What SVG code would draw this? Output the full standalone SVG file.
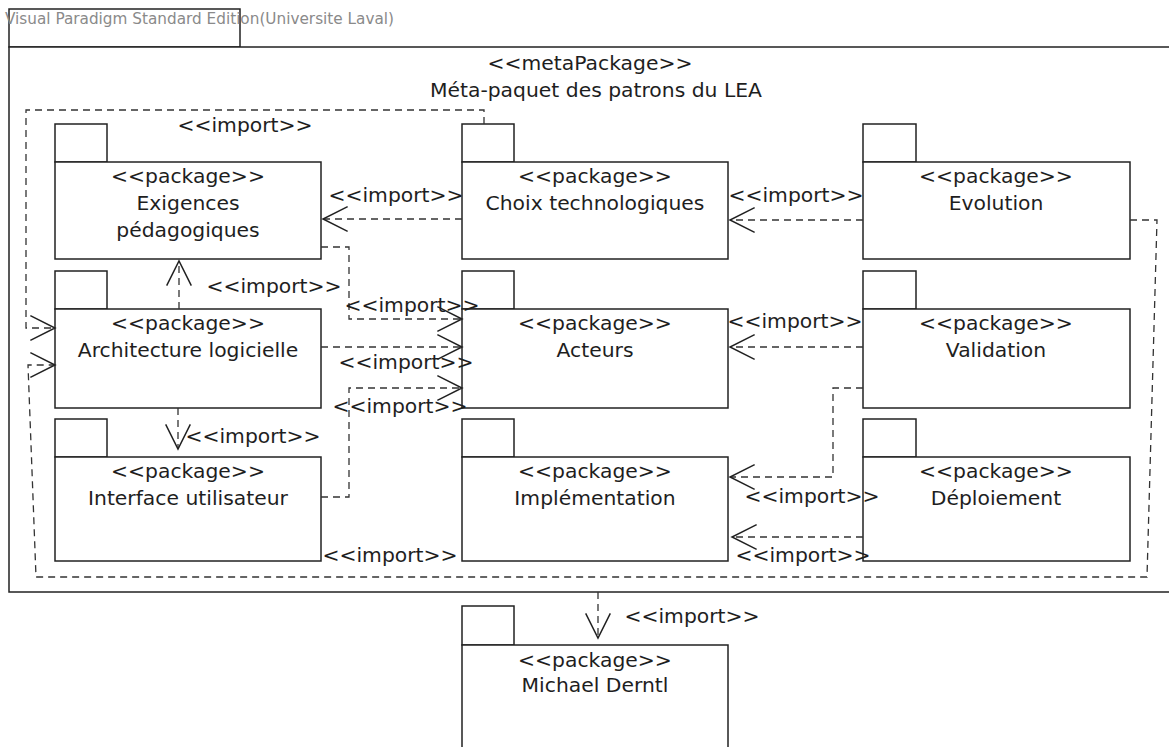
<svg xmlns="http://www.w3.org/2000/svg" width="1169" height="747" viewBox="0 0 1169 747">
  <style>
    .frame { fill: #fff; stroke: #222; stroke-width: 1.5; }
    .pk { fill: #fff; stroke: #222; stroke-width: 1.5; }
    .cn { fill: none; stroke: #333; stroke-width: 1.3; stroke-dasharray: 7 5; marker-end: url(#open); }
    .t { font-family: "DejaVu Sans", "Liberation Sans", sans-serif; font-size: 19px; fill: #1e1e1e; text-anchor: middle;
         transform-box: fill-box; transform-origin: center; transform: scaleX(1.07); }
    .hdr { font-family: "DejaVu Sans", "Liberation Sans", sans-serif; font-size: 15px; fill: #8a8a8a; }
  </style>
  <defs>
    <marker id="open" markerUnits="userSpaceOnUse" markerWidth="30" markerHeight="30" viewBox="-26 -13 28 26" refX="0" refY="0" orient="auto" overflow="visible">
      <path d="M-23,-11.5 L0,0 L-23,11.5" fill="none" stroke="#222" stroke-width="1.4"/>
    </marker>
  </defs>

  <rect width="1169" height="747" fill="#fff"/>

  <!-- metaPackage frame -->
  <g id="metaPackage">
    <rect class="frame" x="9" y="9" width="231" height="38"/>
    <rect class="frame" x="9" y="47" width="1175" height="545"/>
    <text class="hdr" x="5" y="24" textLength="389" lengthAdjust="spacingAndGlyphs">Visual Paradigm Standard Edition(Universite Laval)</text>
    <text class="t" x="590" y="70">&lt;&lt;metaPackage&gt;&gt;</text>
    <text class="t" x="596" y="97">Méta-paquet des patrons du LEA</text>
  </g>

  <!-- packages -->
  <g id="exigences">
    <rect class="pk" x="55" y="124" width="52" height="38"/>
    <rect class="pk" x="55" y="162" width="266" height="97"/>
    <text class="t" x="188" y="183">&lt;&lt;package&gt;&gt;</text>
    <text class="t" x="188" y="210">Exigences</text>
    <text class="t" x="188" y="237">pédagogiques</text>
  </g>
  <g id="choix">
    <rect class="pk" x="462" y="124" width="52" height="38"/>
    <rect class="pk" x="462" y="162" width="266" height="97"/>
    <text class="t" x="595" y="183">&lt;&lt;package&gt;&gt;</text>
    <text class="t" x="595" y="210">Choix technologiques</text>
  </g>
  <g id="evolution">
    <rect class="pk" x="863" y="124" width="53" height="38"/>
    <rect class="pk" x="863" y="162" width="267" height="97"/>
    <text class="t" x="996" y="183">&lt;&lt;package&gt;&gt;</text>
    <text class="t" x="996" y="210">Evolution</text>
  </g>
  <g id="architecture">
    <rect class="pk" x="55" y="271" width="52" height="38"/>
    <rect class="pk" x="55" y="309" width="266" height="99"/>
    <text class="t" x="188" y="330">&lt;&lt;package&gt;&gt;</text>
    <text class="t" x="188" y="357">Architecture logicielle</text>
  </g>
  <g id="acteurs">
    <rect class="pk" x="462" y="271" width="52" height="38"/>
    <rect class="pk" x="462" y="309" width="266" height="99"/>
    <text class="t" x="595" y="330">&lt;&lt;package&gt;&gt;</text>
    <text class="t" x="595" y="357">Acteurs</text>
  </g>
  <g id="validation">
    <rect class="pk" x="863" y="271" width="53" height="38"/>
    <rect class="pk" x="863" y="309" width="267" height="99"/>
    <text class="t" x="996" y="330">&lt;&lt;package&gt;&gt;</text>
    <text class="t" x="996" y="357">Validation</text>
  </g>
  <g id="interface">
    <rect class="pk" x="55" y="419" width="52" height="38"/>
    <rect class="pk" x="55" y="457" width="266" height="104"/>
    <text class="t" x="188" y="478">&lt;&lt;package&gt;&gt;</text>
    <text class="t" x="188" y="505">Interface utilisateur</text>
  </g>
  <g id="implementation">
    <rect class="pk" x="462" y="419" width="52" height="38"/>
    <rect class="pk" x="462" y="457" width="266" height="104"/>
    <text class="t" x="595" y="478">&lt;&lt;package&gt;&gt;</text>
    <text class="t" x="595" y="505">Implémentation</text>
  </g>
  <g id="deploiement">
    <rect class="pk" x="863" y="419" width="53" height="38"/>
    <rect class="pk" x="863" y="457" width="267" height="104"/>
    <text class="t" x="996" y="478">&lt;&lt;package&gt;&gt;</text>
    <text class="t" x="996" y="505">Déploiement</text>
  </g>
  <g id="derntl">
    <rect class="pk" x="462" y="606" width="52" height="39"/>
    <rect class="pk" x="462" y="645" width="266" height="120"/>
    <text class="t" x="595" y="667">&lt;&lt;package&gt;&gt;</text>
    <text class="t" x="595" y="692">Michael Derntl</text>
  </g>

  <!-- import dependencies -->
  <g id="connectors">
    <path class="cn" d="M484,124 V110 H26 V328 H55"/>
    <path class="cn" d="M1130,220 H1157 L1147,577 H36 L28,365 H55"/>
    <path class="cn" d="M462,219 H323"/>
    <path class="cn" d="M863,220 H730"/>
    <path class="cn" d="M321,247 H349 V319 H462"/>
    <path class="cn" d="M179,309 V261"/>
    <path class="cn" d="M321,347 H462"/>
    <path class="cn" d="M321,497 H349 V388 H462"/>
    <path class="cn" d="M178,408 V449"/>
    <path class="cn" d="M863,347 H730"/>
    <path class="cn" d="M863,388 H833 V477 H730"/>
    <path class="cn" d="M863,537 H732"/>
    <path class="cn" d="M598,592 V638"/>

    <text class="t" x="245" y="132">&lt;&lt;import&gt;&gt;</text>
    <text class="t" x="396" y="202">&lt;&lt;import&gt;&gt;</text>
    <text class="t" x="796" y="202">&lt;&lt;import&gt;&gt;</text>
    <text class="t" x="274" y="293">&lt;&lt;import&gt;&gt;</text>
    <text class="t" x="412" y="312">&lt;&lt;import&gt;&gt;</text>
    <text class="t" x="406" y="369">&lt;&lt;import&gt;&gt;</text>
    <text class="t" x="400" y="413">&lt;&lt;import&gt;&gt;</text>
    <text class="t" x="253" y="443">&lt;&lt;import&gt;&gt;</text>
    <text class="t" x="795" y="328">&lt;&lt;import&gt;&gt;</text>
    <text class="t" x="812" y="503">&lt;&lt;import&gt;&gt;</text>
    <text class="t" x="803" y="562">&lt;&lt;import&gt;&gt;</text>
    <text class="t" x="390" y="562">&lt;&lt;import&gt;&gt;</text>
    <text class="t" x="692" y="623">&lt;&lt;import&gt;&gt;</text>
  </g>
</svg>
